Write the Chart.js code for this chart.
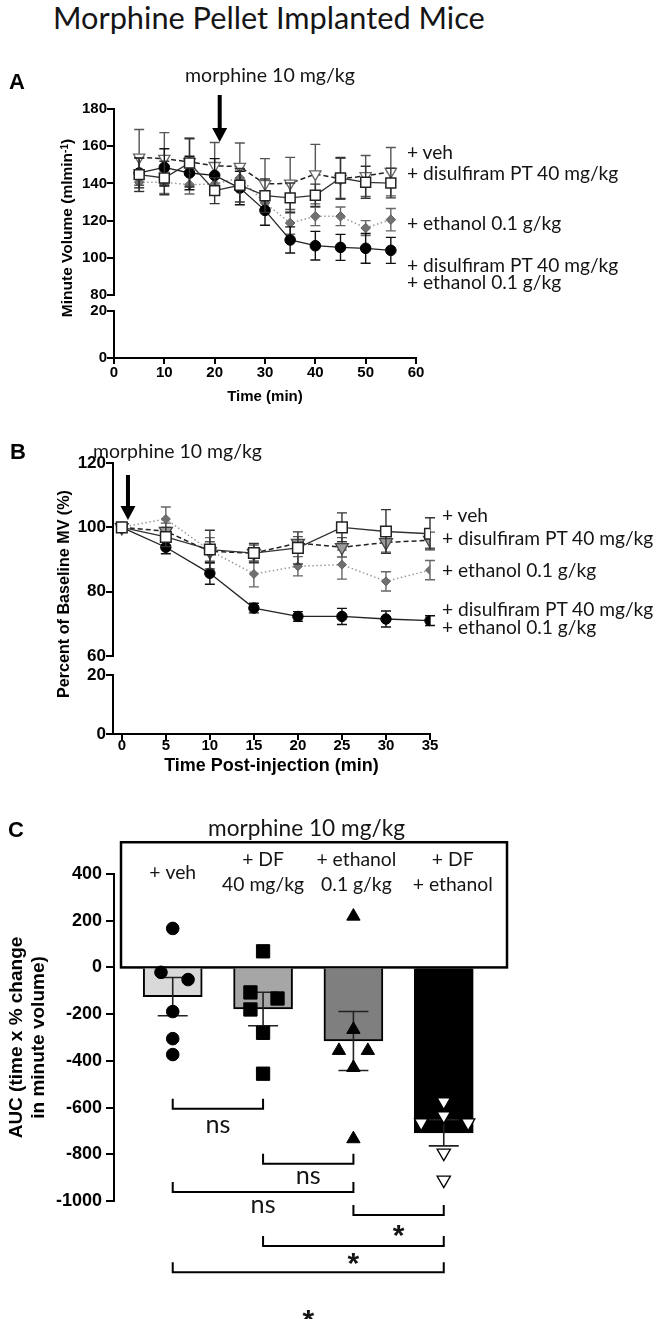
<!DOCTYPE html>
<html><head><meta charset="utf-8">
<script src="https://cdn.jsdelivr.net/npm/chart.js@4.4.1/dist/chart.umd.min.js"></script>
<style>
html,body{margin:0;padding:0;background:#fff;}
#page{position:relative;width:657px;height:1319px;overflow:hidden;background:#fff;}
canvas{position:absolute;left:0;}
.t{position:absolute;white-space:nowrap;line-height:1;font-family:Lato,'Open Sans',sans-serif;color:#151515;transform:translateY(-50%);z-index:2;}
.L{position:absolute;font-family:'Liberation Sans',Arial,sans-serif;font-weight:bold;font-size:22px;line-height:1;transform:translateY(-50%);color:#000;z-index:2;}
.yt{position:absolute;white-space:nowrap;line-height:1;font-family:'Liberation Sans',Arial,sans-serif;font-weight:bold;color:#000;transform:translate(-50%,-50%) rotate(-90deg);z-index:2;}
</style></head><body><div id="page">
<canvas id="cA" width="657" height="350" style="top:60px;width:657px;height:350px"></canvas>
<canvas id="cB" width="657" height="341" style="top:440px;width:657px;height:341px"></canvas>
<canvas id="cC" width="657" height="519" style="top:800px;width:657px;height:519px"></canvas>
</div>
<script>
// ================= DATA =================
// series: open square = + veh, inverted triangle = + disulfiram PT 40 mg/kg,
// grey diamond = + ethanol 0.1 g/kg, black circle = + disulfiram + ethanol
const legendLines = ['+ veh', '+ disulfiram PT 40 mg/kg', '+ ethanol 0.1 g/kg', '+ disulfiram PT 40 mg/kg', '+ ethanol 0.1 g/kg'];

// Panel A : minute volume (ml min-1)
const timeA = [5, 10, 15, 20, 25, 30, 35, 40, 45, 50, 55];
const vehA = [144.7, 142.9, 151.0, 136.1, 139.0, 133.4, 132.2, 133.6, 142.9, 140.6, 140.2];
const vehA_sem = [9, 9, 13, 7, 9, 9, 8, 6, 11, 8.6, 8];
const dfA = [154.0, 153.3, 151.5, 149.5, 149.0, 139.7, 140.0, 145.0, 142.5, 144.0, 146.3];
const dfA_sem = [15, 14, 13, 12.5, 12.7, 13.6, 14, 16, 11, 11, 13];
const ethA = [140.6, 140.6, 139.3, 139.7, 142.9, 129.5, 118.7, 122.3, 122.3, 116.0, 120.5];
const ethA_sem = [5, 6, 5, 5, 5, 4, 6, 5, 5, 4, 6];
const dfEthA = [145.6, 148.6, 145.6, 144.3, 137.5, 125.5, 109.6, 106.5, 105.6, 105.1, 104.0];
const dfEthA_sem = [8, 10, 9, 9, 9, 8, 7, 7.7, 7, 8, 7];
const xTicksA = [0, 10, 20, 30, 40, 50, 60];
const yTicksA_upper = [80, 100, 120, 140, 160, 180];
const yTicksA_lower = [0, 20];

// Panel B : percent of baseline MV
const timeB = [0, 5, 10, 15, 20, 25, 30, 35];
const vehB = [100, 97.0, 93.1, 92.0, 93.6, 100.0, 98.7, 98.0];
const vehB_sem = [0, 3, 6, 3, 5, 4.5, 6.8, 5];
const dfB = [100, 98.8, 92.5, 92.0, 95.1, 93.8, 95.3, 96.0];
const dfB_sem = [0, 2.5, 3, 2.5, 2, 3, 3, 2.5];
const ethB = [100, 102.6, 92.8, 85.5, 87.9, 88.4, 83.2, 86.7];
const ethB_sem = [0, 3.7, 4, 4, 3, 4.5, 3, 3];
const dfEthB = [100, 93.8, 85.7, 74.9, 72.3, 72.3, 71.5, 71.0];
const dfEthB_sem = [0, 2, 3.4, 1.5, 1.5, 2.5, 2.5, 1.5];
const xTicksB = [0, 5, 10, 15, 20, 25, 30, 35];
const yTicksB_upper = [60, 80, 100, 120];
const yTicksB_lower = [0, 20];

// Panel C : AUC
const groupsC = [['+ veh'], ['+ DF', '40 mg/kg'], ['+ ethanol', '0.1 g/kg'], ['+ DF', '+ ethanol']];
const aucMean = [-125, -178, -315, -708];
const aucSem = [82, 72, 126, 56];
const aucVeh = [167, -21, -52, -189, -305, -373];
const aucDF = [69, -107, -133, -180, -280, -455];
const aucEth = [219, -266, -356, -356, -429, -734];
const aucDFEth = [-575, -635, -665, -665, -794, -910];
const yTicksC = [400, 200, 0, -200, -400, -600, -800, -1000];
const comparisons = [[0, 1, 'ns'], [1, 2, 'ns'], [0, 2, 'ns'], [2, 3, '*'], [1, 3, '*'], [0, 3, '*']];

// ================= LAYOUT / STYLE =================
const jitterC = [[0, -0.13, 0.17, 0, 0, 0], [0, -0.14, 0.16, -0.14, 0, 0], [0, 0, -0.16, 0.16, 0, 0], [0, 0, -0.25, 0.27, 0, 0]];
const bracketLevelC = [-605, -841, -961, -1060, -1193, -1305];
const bracketLabelC = [-682, -901, -1026, -1112, -1232, -1476];
const AX = "'Liberation Sans', Arial, sans-serif";
const CAL = "Lato, 'Open Sans', sans-serif";
const meas = document.createElement('canvas').getContext('2d');
function fitSize(text, family, weight, target) {
  meas.font = weight + ' 100px ' + family;
  return 100 * target / meas.measureText(text).width;
}
const page = document.getElementById('page');
function addDiv(cls, html, left, top, size) {
  const d = document.createElement('div');
  d.className = cls; d.innerHTML = html;
  d.style.left = left + 'px'; d.style.top = top + 'px';
  if (size) d.style.fontSize = size + 'px';
  page.appendChild(d); return d;
}
// texts
addDiv('t', 'Morphine Pellet Implanted Mice', 53, 18, fitSize('Morphine Pellet Implanted Mice', CAL, 'normal', 432));
addDiv('L', 'A', 9, 82); addDiv('L', 'B', 10, 452); addDiv('L', 'C', 8, 830);
addDiv('t', 'morphine 10 mg/kg', 185, 74.5, fitSize('morphine 10 mg/kg', CAL, 'normal', 170));
addDiv('t', 'morphine 10 mg/kg', 93, 450.5, fitSize('morphine 10 mg/kg', CAL, 'normal', 169));
addDiv('t', 'morphine 10 mg/kg', 208, 828, fitSize('morphine 10 mg/kg', CAL, 'normal', 197));
const legSize = fitSize(legendLines[1], CAL, 'normal', 212);
[152, 173, 223, 265, 282].forEach((t, i) => addDiv('t', legendLines[i], 407, t, legSize));
[515, 538, 570, 609, 627].forEach((t, i) => addDiv('t', legendLines[i], 442, t, legSize));
addDiv('yt', 'Minute Volume (mlmin<sup style="font-size:0.65em;vertical-align:0.45em">-1</sup>)', 67, 228, fitSize('Minute Volume (mlmin1)', AX, 'bold', 178));
addDiv('yt', 'Percent of Baseline MV (%)', 63, 594, fitSize('Percent of Baseline MV (%)', AX, 'bold', 208));

// ================= PLUGINS =================
function drawErr(chart, i) {
  const ds = chart.data.datasets[i], meta = chart.getDatasetMeta(i);
  const ys = chart.scales[meta.yAxisID], ctx = chart.ctx, cap = ds.capHalf || 5;
  ctx.save();
  ctx.strokeStyle = ds.errorColor || '#000'; ctx.lineWidth = ds.errorWidth || 1.4;
  meta.data.forEach((el, j) => {
    const e = ds.errors[j]; if (!e) return;
    const v = ds.data[j].y;
    const y1 = ys.getPixelForValue(v + e), y2 = ys.getPixelForValue(v - e), x = el.x;
    ctx.beginPath();
    ctx.moveTo(x, y1); ctx.lineTo(x, y2);
    ctx.moveTo(x - cap, y1); ctx.lineTo(x + cap, y1);
    ctx.moveTo(x - cap, y2); ctx.lineTo(x + cap, y2);
    ctx.stroke();
  });
  ctx.restore();
}
const errorBars = {
  id: 'errorBars',
  beforeDatasetDraw(chart, args) { const ds = chart.data.datasets[args.index]; if (ds.errors && !ds.errorsOnTop) drawErr(chart, args.index); },
  afterDatasetDraw(chart, args) { const ds = chart.data.datasets[args.index]; if (ds.errors && ds.errorsOnTop) drawErr(chart, args.index); }
};
const arrowPlugin = {
  id: 'arrow',
  afterDraw(chart, args, opts) {
    if (opts.x === undefined) return;
    const ctx = chart.ctx, x = chart.scales.x.getPixelForValue(opts.x);
    ctx.save(); ctx.fillStyle = '#000';
    ctx.fillRect(x - 2, opts.top, 4, opts.bottom - opts.top - 12);
    ctx.beginPath(); ctx.moveTo(x - 7.5, opts.bottom - 14); ctx.lineTo(x + 7.5, opts.bottom - 14); ctx.lineTo(x, opts.bottom); ctx.closePath(); ctx.fill();
    ctx.restore();
  }
};

function yAxis(min, max, ticks, stackWeight, weight, width, size) {
  return {
    type: 'linear', position: 'left', stack: 'v', stackWeight, weight, min, max,
    afterBuildTicks: s => { s.ticks = ticks.map(v => ({ value: v })); },
    afterFit: s => { s.width = width; },
    border: { display: true, color: '#000', width: 2 },
    grid: { display: true, drawOnChartArea: false, drawTicks: true, tickLength: 7, lineWidth: 2, color: '#000' },
    ticks: { font: { family: AX, size, weight: 'bold' }, color: '#000', padding: 0, callback: v => String(v) }
  };
}
function xAxis(min, max, ticks, height, title, tsize, fsize, pad) {
  return {
    type: 'linear', min, max,
    afterBuildTicks: s => { s.ticks = ticks.map(v => ({ value: v })); },
    afterFit: s => { s.height = height; },
    border: { display: true, color: '#000', width: 2 },
    grid: { display: true, drawOnChartArea: false, drawTicks: true, tickLength: 6, lineWidth: 2, color: '#000' },
    ticks: { font: { family: AX, size: fsize, weight: 'bold', lineHeight: 1 }, color: '#000', padding: pad, maxRotation: 0, autoSkip: false, callback: v => String(v) },
    title: { display: true, text: title, font: { family: AX, size: tsize, weight: 'bold' }, color: '#000', padding: { top: 0, bottom: 4 } }
  };
}
const styles = {
  veh: { pointStyle: 'rect', pointBackgroundColor: '#fff', pointBorderColor: '#222', pointBorderWidth: 1.5, borderColor: '#333', borderWidth: 1.3, errorColor: '#333' },
  dfEth: { pointStyle: 'circle', pointBackgroundColor: '#000', pointBorderColor: '#000', pointBorderWidth: 1, borderColor: '#222', borderWidth: 1.3, errorColor: '#111' },
  df: { pointStyle: 'triangle', pointRotation: 180, pointBackgroundColor: '#fff', pointBorderColor: '#666', pointBorderWidth: 1.3, borderColor: '#222', borderDash: [5, 3], borderWidth: 1.5, errorColor: '#555' },
  eth: { pointStyle: 'rectRot', pointBackgroundColor: '#707070', pointBorderColor: '#606060', pointBorderWidth: 1, borderColor: '#9a9a9a', borderDash: [1.5, 2.5], borderWidth: 1.5, errorColor: '#666' }
};
function ds(xs, ys, errs, style, radius, extra) {
  return Object.assign({ data: xs.map((x, i) => ({ x, y: ys[i] })), errors: errs, yAxisID: 'y', tension: 0, fill: false, pointRadius: radius }, style, extra || {});
}
const common = { responsive: false, animation: false, events: [], plugins: { legend: { display: false }, tooltip: { enabled: false } } };

// ================= PANEL A =================
new Chart(document.getElementById('cA'), {
  type: 'line',
  data: { datasets: [
    ds(timeA, vehA, vehA_sem, styles.veh, 7),
    ds(timeA, dfEthA, dfEthA_sem, styles.dfEth, 5.3),
    ds(timeA, dfA, dfA_sem, styles.df, 6.5),
    ds(timeA, ethA, ethA_sem, styles.eth, 4.8)
  ] },
  options: Object.assign({}, common, {
    layout: { padding: { top: 49, right: 241, bottom: 0, left: 0 } },
    plugins: Object.assign({}, common.plugins, { arrow: { x: 21, top: 35, bottom: 82 } }),
    scales: {
      x: xAxis(0, 60, xTicksA, 52, 'Time (min)', 15, 15, 1.5),
      y: yAxis(80, 180, yTicksA_upper, 186, 3, 114, 15),
      yGap: { type: 'linear', position: 'left', display: false, stack: 'v', stackWeight: 16, weight: 2, min: 0, max: 1 },
      yLow: yAxis(0, 20, yTicksA_lower, 47, 1, 114, 15)
    }
  }),
  plugins: [errorBars, arrowPlugin]
});

// ================= PANEL B =================
new Chart(document.getElementById('cB'), {
  type: 'line',
  data: { datasets: [
    ds(timeB, vehB, vehB_sem, styles.veh, 7.5),
    ds(timeB, dfEthB, dfEthB_sem, styles.dfEth, 5.2),
    ds(timeB, dfB, dfB_sem, styles.df, 7.5, { pointBackgroundColor: '#9a9a9a', pointBorderColor: '#444' }),
    ds(timeB, ethB, ethB_sem, styles.eth, 4.5)
  ] },
  options: Object.assign({}, common, {
    layout: { padding: { top: 23, right: 227, bottom: 0, left: 0 } },
    plugins: Object.assign({}, common.plugins, { arrow: { x: 0.7, top: 35, bottom: 80 } }),
    scales: {
      x: xAxis(-1, 35, xTicksB, 47, 'Time Post-injection (min)', 18, 15, -2),
      y: yAxis(60, 120, yTicksB_upper, 193, 3, 113, 17),
      yGap: { type: 'linear', position: 'left', display: false, stack: 'v', stackWeight: 19, weight: 2, min: 0, max: 1 },
      yLow: yAxis(0, 20, yTicksB_lower, 59, 1, 113, 17)
    }
  }),
  plugins: [errorBars, arrowPlugin]
});

// ================= PANEL C =================
const catSize = fitSize('+ ethanol', CAL, 'normal', 80);
const labelShift = [0, 0, 3, 9];
const panelC = {
  id: 'panelC',
  beforeDatasetsDraw(chart) {
    const { ctx, chartArea: ca, scales: { y } } = chart;
    ctx.save(); ctx.strokeStyle = '#000'; ctx.lineWidth = 2.5;
    const top = y.getPixelForValue(536), bot = y.getPixelForValue(0);
    ctx.strokeRect(ca.left + 7, top, ca.right - ca.left - 7, bot - top);
    ctx.restore();
  },
  afterDraw(chart) {
    const { ctx, scales: { x, y } } = chart;
    ctx.save();
    const top = y.getPixelForValue(536);
    ctx.fillStyle = '#151515'; ctx.textAlign = 'center'; ctx.textBaseline = 'middle';
    ctx.font = catSize + 'px ' + CAL;
    groupsC.forEach((lines, i) => {
      const cx = x.getPixelForValue(i + 1) + labelShift[i];
      if (lines.length === 1) ctx.fillText(lines[0], cx, top + 31);
      else { ctx.fillText(lines[0], cx, top + 18); ctx.fillText(lines[1], cx, top + 43); }
    });
    ctx.strokeStyle = '#000'; ctx.lineWidth = 2;
    comparisons.forEach((c, k) => {
      const x1 = x.getPixelForValue(c[0] + 1), x2 = x.getPixelForValue(c[1] + 1);
      const yy = y.getPixelForValue(bracketLevelC[k]);
      ctx.beginPath(); ctx.moveTo(x1, yy - 10); ctx.lineTo(x1, yy); ctx.lineTo(x2, yy); ctx.lineTo(x2, yy - 10); ctx.stroke();
      const ly = y.getPixelForValue(bracketLabelC[k]);
      if (c[2] === 'ns') {
        ctx.font = fitSize('ns', CAL, 'normal', 25) + 'px ' + CAL; ctx.textBaseline = 'middle';
        ctx.fillText('ns', (x1 + x2) / 2, ly - 2);
      } else {
        ctx.font = 'bold 30px ' + AX; ctx.textBaseline = 'alphabetic';
        ctx.fillText('*', (x1 + x2) / 2, ly + 0.58 * 30);
      }
    });
    ctx.restore();
  }
};
function pts(vals, gi) { return vals.map((v, i) => ({ x: gi + 1 + jitterC[gi][i], y: v })); }
new Chart(document.getElementById('cC'), {
  type: 'bar',
  data: { datasets: [
    { type: 'scatter', data: pts(aucVeh, 0), pointStyle: 'circle', pointRadius: 6.3, pointBackgroundColor: '#000', pointBorderColor: '#000', order: 1 },
    { type: 'scatter', data: pts(aucDF, 1), pointStyle: 'rect', pointRadius: 9.4, pointBackgroundColor: '#000', pointBorderColor: '#000', order: 1 },
    { type: 'scatter', data: pts(aucEth, 2), pointStyle: 'triangle', pointRadius: 7.7, pointBackgroundColor: '#000', pointBorderColor: '#000', order: 1 },
    { type: 'scatter', data: pts(aucDFEth, 3), pointStyle: 'triangle', pointRotation: 180, pointRadius: 7.7, pointBackgroundColor: '#fff', pointBorderColor: '#000', pointBorderWidth: 1.3, order: 1 },
    { type: 'bar', data: aucMean.map((v, i) => ({ x: i + 1, y: v })), backgroundColor: ['#d9d9d9', '#a6a6a6', '#7f7f7f', '#000'], borderColor: '#000', borderWidth: 2, barThickness: 59, errors: aucSem, errorsOnTop: true, errorColor: '#222', errorWidth: 1.6, capHalf: 15, order: 2 }
  ] },
  options: Object.assign({}, common, {
    layout: { padding: { top: 74, right: 150, bottom: 118, left: 0 } },
    scales: {
      x: { type: 'linear', min: 0.35, max: 4.7, display: false, offset: false },
      y: {
        type: 'linear', position: 'left', min: -1000, max: 400,
        afterBuildTicks: s => { s.ticks = yTicksC.map(v => ({ value: v })); },
        afterFit: s => { s.width = 114; },
        border: { display: true, color: '#000', width: 2 },
        grid: { display: true, drawOnChartArea: false, drawTicks: true, tickLength: 8, lineWidth: 2, color: '#000' },
        ticks: { font: { family: AX, size: 18, weight: 'bold' }, color: '#000', padding: 4, callback: v => String(v) },
        title: { display: true, text: ['AUC (time x % change', 'in minute volume)'], font: { family: AX, size: 19, weight: 'bold', lineHeight: 1.15 }, color: '#000', padding: { top: 6, bottom: 0 } }
      }
    }
  }),
  plugins: [errorBars, panelC]
});
</script>
</body></html>
